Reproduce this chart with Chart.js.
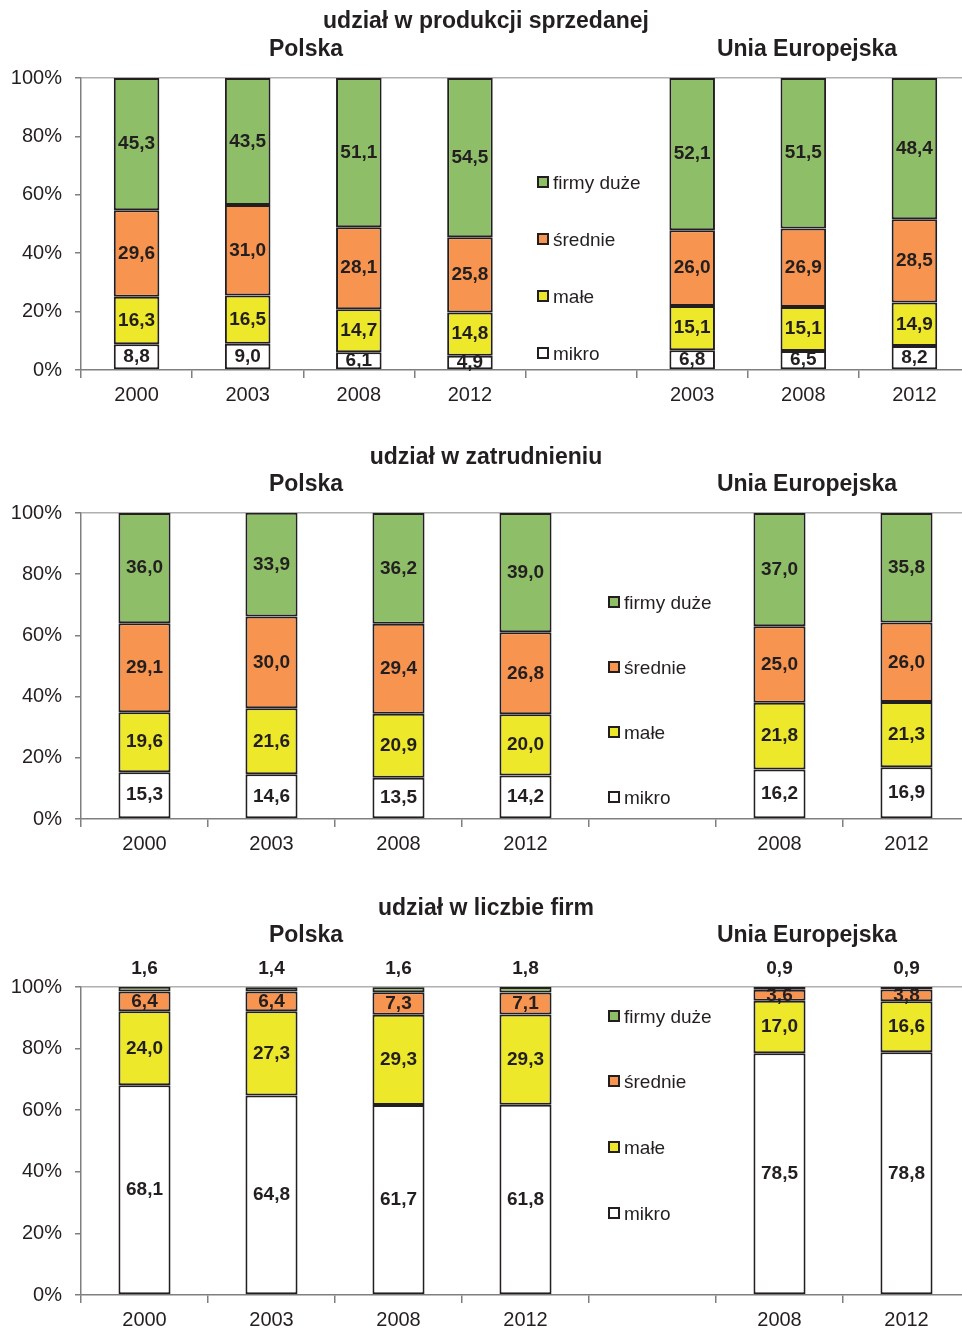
<!DOCTYPE html>
<html lang="pl">
<head>
  <meta charset="UTF-8">
  <title>Udział firm według wielkości</title>
  <script src="https://cdn.jsdelivr.net/npm/chart.js"></script>
  <style>
    html, body {
      margin: 0;
      padding: 0;
      width: 962px;
      height: 1328px;
      overflow: hidden;
      background: #ffffff;
      font-family: 'Liberation Sans', Arial, sans-serif;
      color: #231f20;
    }
    .box { position: absolute; left: 0; }
    .title {
      position: absolute;
      font-weight: bold;
      font-size: 23px;
      line-height: 26px;
      white-space: nowrap;
      transform: translateX(-50%);
    }
    .legend-item {
      position: absolute;
      font-size: 19px;
      line-height: 22px;
      white-space: nowrap;
    }
    .legend-item span.sw {
      display: inline-block;
      width: 8px;
      height: 8px;
      border: 2px solid #231f20;
      margin-right: 4px;
      vertical-align: 1px;
    }
  </style>
</head>
<body>
  <div class="box" style="top:0"><canvas id="c1" width="970" height="420"></canvas></div>
  <div class="box" style="top:440px"><canvas id="c2" width="970" height="430"></canvas></div>
  <div class="box" style="top:880px"><canvas id="c3" width="970" height="448"></canvas></div>

  <div id="overlay"></div>

  <script>
    // serie (od dołu słupka)
    const seriesNames = ['mikro', 'małe', 'średnie', 'firmy duże'];
    const seriesColors = ['#ffffff', '#ede82a', '#f7944f', '#8ebf68'];

    // udział w produkcji sprzedanej
    const prodYears = ['2000', '2003', '2008', '2012', '', '2003', '2008', '2012'];
    const prodMikro = [8.8, 9.0, 6.1, 4.9, null, 6.8, 6.5, 8.2];
    const prodMale = [16.3, 16.5, 14.7, 14.8, null, 15.1, 15.1, 14.9];
    const prodSrednie = [29.6, 31.0, 28.1, 25.8, null, 26.0, 26.9, 28.5];
    const prodDuze = [45.3, 43.5, 51.1, 54.5, null, 52.1, 51.5, 48.4];

    // udział w zatrudnieniu
    const empYears = ['2000', '2003', '2008', '2012', '', '2008', '2012'];
    const empMikro = [15.3, 14.6, 13.5, 14.2, null, 16.2, 16.9];
    const empMale = [19.6, 21.6, 20.9, 20.0, null, 21.8, 21.3];
    const empSrednie = [29.1, 30.0, 29.4, 26.8, null, 25.0, 26.0];
    const empDuze = [36.0, 33.9, 36.2, 39.0, null, 37.0, 35.8];

    // udział w liczbie firm
    const firmYears = ['2000', '2003', '2008', '2012', '', '2008', '2012'];
    const firmMikro = [68.1, 64.8, 61.7, 61.8, null, 78.5, 78.8];
    const firmMale = [24.0, 27.3, 29.3, 29.3, null, 17.0, 16.6];
    const firmSrednie = [6.4, 6.4, 7.3, 7.1, null, 3.6, 3.8];
    const firmDuze = [1.6, 1.4, 1.6, 1.8, null, 0.9, 0.9];

    const yTicks = [0, 20, 40, 60, 80, 100];

    const FONT = "'Liberation Sans', Arial, sans-serif";
    const INK = '#231f20';
    Chart.defaults.font.family = FONT;
    Chart.defaults.color = INK;

    // wartości w środku segmentów (albo nad słupkiem dla wybranej serii)
    const valueLabels = {
      id: 'valueLabels',
      afterDatasetsDraw(chart, args, opts) {
        const ctx = chart.ctx;
        ctx.save();
        ctx.font = 'bold 19px ' + FONT;
        ctx.fillStyle = INK;
        ctx.textAlign = 'center';
        ctx.textBaseline = 'middle';
        chart.data.datasets.forEach((ds, i) => {
          const meta = chart.getDatasetMeta(i);
          meta.data.forEach((bar, j) => {
            const v = ds.data[j];
            if (v == null) return;
            let y;
            if (opts.above === i) {
              y = chart.chartArea.top - 18;
            } else {
              const p = bar.getProps(['y', 'base'], true);
              y = (Math.max(p.y, chart.chartArea.top) + p.base) / 2;
            }
            ctx.fillText(v.toFixed(1).replace('.', ','), bar.x, y);
          });
        });
        ctx.restore();
      }
    };

    function makeChart(id, years, series, padTop, xHeight, above) {
      const datasets = series.map((d, i) => ({
        label: seriesNames[i],
        data: d,
        backgroundColor: seriesColors[i],
        borderColor: INK,
        borderWidth: 2,
        borderSkipped: false,
        categoryPercentage: 1.0,
        barPercentage: 0.41
      }));
      return new Chart(document.getElementById(id), {
        type: 'bar',
        data: { labels: years, datasets: datasets },
        plugins: [valueLabels],
        options: {
          responsive: false,
          animation: false,
          layout: { padding: { top: padTop, left: 0, right: 0, bottom: 0 } },
          scales: {
            x: {
              stacked: true,
              offset: true,
              grid: { offset: true, drawOnChartArea: false, tickLength: 8, color: '#7f7f7f', lineWidth: 1.5 },
              border: { color: '#7f7f7f', width: 1.5 },
              ticks: { font: { size: 20 }, color: INK, padding: 5, maxRotation: 0, autoSkip: false },
              afterFit: s => { s.height = xHeight; }
            },
            y: {
              stacked: true,
              min: 0,
              max: 100,
              afterBuildTicks: s => { s.ticks = yTicks.map(v => ({ value: v })); },
              grid: {
                color: c => (c.tick && c.tick.value === 100 ? '#b0b0b0' : 'rgba(0,0,0,0)'),
                tickColor: '#7f7f7f',
                tickLength: 6,
                lineWidth: 1.5
              },
              border: { color: '#7f7f7f', width: 1.5 },
              ticks: { font: { size: 20 }, color: INK, padding: 13, callback: v => v + '%' },
              afterFit: s => { s.width = 81; }
            }
          },
          plugins: {
            legend: { display: false },
            tooltip: { enabled: false },
            valueLabels: { above: above }
          }
        }
      });
    }

    makeChart('c1', prodYears, [prodMikro, prodMale, prodSrednie, prodDuze], 78, 50, -1);
    makeChart('c2', empYears, [empMikro, empMale, empSrednie, empDuze], 73, 51, -1);
    makeChart('c3', firmYears, [firmMikro, firmMale, firmSrednie, firmDuze], 107, 33, 3);

    // tytuły i legendy
    const overlay = document.getElementById('overlay');
    function addTitle(text, cx, cy) {
      const d = document.createElement('div');
      d.className = 'title';
      d.textContent = text;
      d.style.left = cx + 'px';
      d.style.top = (cy - 13) + 'px';
      overlay.appendChild(d);
    }
    function addLegend(x, ys) {
      // od góry: firmy duże, średnie, małe, mikro
      for (let k = 0; k < 4; k++) {
        const i = 3 - k;
        const d = document.createElement('div');
        d.className = 'legend-item';
        d.style.left = x + 'px';
        d.style.top = (ys[k] - 11) + 'px';
        const sw = document.createElement('span');
        sw.className = 'sw';
        sw.style.background = seriesColors[i];
        d.appendChild(sw);
        d.appendChild(document.createTextNode(seriesNames[i]));
        overlay.appendChild(d);
      }
    }

    addTitle('udział w produkcji sprzedanej', 486, 20);
    addTitle('Polska', 306, 48);
    addTitle('Unia Europejska', 807, 48);
    addLegend(537, [183, 240, 297, 354]);

    addTitle('udział w zatrudnieniu', 486, 456);
    addTitle('Polska', 306, 483);
    addTitle('Unia Europejska', 807, 483);
    addLegend(608, [603, 668, 733, 798]);

    addTitle('udział w liczbie firm', 486, 907);
    addTitle('Polska', 306, 934);
    addTitle('Unia Europejska', 807, 934);
    addLegend(608, [1017, 1082, 1148, 1214]);
  </script>
</body>
</html>
